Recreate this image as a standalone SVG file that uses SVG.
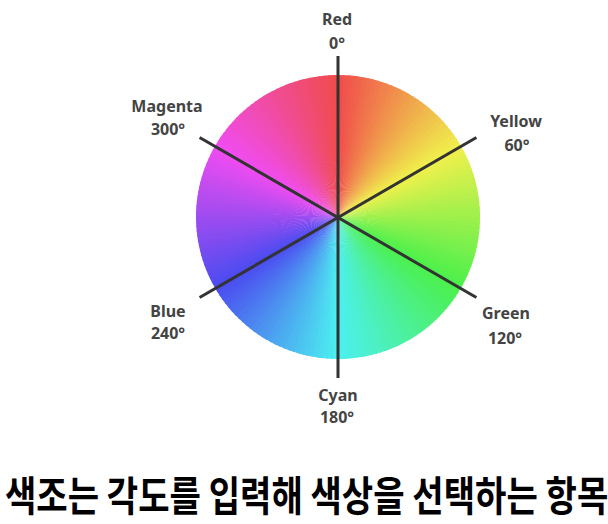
<svg xmlns="http://www.w3.org/2000/svg" xmlns:xlink="http://www.w3.org/1999/xlink" width="608" height="524" viewBox="0 0 608 524">
<style>
.lbl{font-family:"Noto Sans","Liberation Sans",sans-serif;font-weight:700;font-size:16px;fill:#444;text-anchor:middle}
.spoke{stroke:#333;stroke-width:3;stroke-linecap:butt;fill:none}
.title{font-family:"Noto Sans CJK KR","Noto Sans",sans-serif;font-weight:700;font-size:34.1px;fill:#000}
</style>
<defs>
<path id="w" d="M0 0 L0 -142 A142 142 0 0 1 6.44 -141.85 Z"/>
</defs>
<rect width="608" height="524" fill="#fff"/>
<g id="wheel" transform="translate(338,217)">
<use href="#w" transform="rotate(0)" fill="hsl(1,85%,62%)"/>
<use href="#w" transform="rotate(2)" fill="hsl(3,85%,62%)"/>
<use href="#w" transform="rotate(4)" fill="hsl(5,85%,62%)"/>
<use href="#w" transform="rotate(6)" fill="hsl(7,85%,62%)"/>
<use href="#w" transform="rotate(8)" fill="hsl(9,85%,62%)"/>
<use href="#w" transform="rotate(10)" fill="hsl(11,85%,62%)"/>
<use href="#w" transform="rotate(12)" fill="hsl(13,85%,62%)"/>
<use href="#w" transform="rotate(14)" fill="hsl(15,85%,62%)"/>
<use href="#w" transform="rotate(16)" fill="hsl(17,85%,62%)"/>
<use href="#w" transform="rotate(18)" fill="hsl(19,85%,62%)"/>
<use href="#w" transform="rotate(20)" fill="hsl(21,85%,62%)"/>
<use href="#w" transform="rotate(22)" fill="hsl(23,85%,62%)"/>
<use href="#w" transform="rotate(24)" fill="hsl(25,85%,62%)"/>
<use href="#w" transform="rotate(26)" fill="hsl(27,85%,62%)"/>
<use href="#w" transform="rotate(28)" fill="hsl(29,85%,62%)"/>
<use href="#w" transform="rotate(30)" fill="hsl(31,85%,62%)"/>
<use href="#w" transform="rotate(32)" fill="hsl(33,85%,62%)"/>
<use href="#w" transform="rotate(34)" fill="hsl(35,85%,62%)"/>
<use href="#w" transform="rotate(36)" fill="hsl(37,85%,62%)"/>
<use href="#w" transform="rotate(38)" fill="hsl(39,85%,62%)"/>
<use href="#w" transform="rotate(40)" fill="hsl(41,85%,62%)"/>
<use href="#w" transform="rotate(42)" fill="hsl(43,85%,62%)"/>
<use href="#w" transform="rotate(44)" fill="hsl(45,85%,62%)"/>
<use href="#w" transform="rotate(46)" fill="hsl(47,85%,62%)"/>
<use href="#w" transform="rotate(48)" fill="hsl(49,85%,62%)"/>
<use href="#w" transform="rotate(50)" fill="hsl(51,85%,62%)"/>
<use href="#w" transform="rotate(52)" fill="hsl(53,85%,62%)"/>
<use href="#w" transform="rotate(54)" fill="hsl(55,85%,62%)"/>
<use href="#w" transform="rotate(56)" fill="hsl(57,85%,62%)"/>
<use href="#w" transform="rotate(58)" fill="hsl(59,85%,62%)"/>
<use href="#w" transform="rotate(60)" fill="hsl(61,85%,62%)"/>
<use href="#w" transform="rotate(62)" fill="hsl(63,85%,62%)"/>
<use href="#w" transform="rotate(64)" fill="hsl(65,85%,62%)"/>
<use href="#w" transform="rotate(66)" fill="hsl(67,85%,62%)"/>
<use href="#w" transform="rotate(68)" fill="hsl(69,85%,62%)"/>
<use href="#w" transform="rotate(70)" fill="hsl(71,85%,62%)"/>
<use href="#w" transform="rotate(72)" fill="hsl(73,85%,62%)"/>
<use href="#w" transform="rotate(74)" fill="hsl(75,85%,62%)"/>
<use href="#w" transform="rotate(76)" fill="hsl(77,85%,62%)"/>
<use href="#w" transform="rotate(78)" fill="hsl(79,85%,62%)"/>
<use href="#w" transform="rotate(80)" fill="hsl(81,85%,62%)"/>
<use href="#w" transform="rotate(82)" fill="hsl(83,85%,62%)"/>
<use href="#w" transform="rotate(84)" fill="hsl(85,85%,62%)"/>
<use href="#w" transform="rotate(86)" fill="hsl(87,85%,62%)"/>
<use href="#w" transform="rotate(88)" fill="hsl(89,85%,62%)"/>
<use href="#w" transform="rotate(90)" fill="hsl(91,85%,62%)"/>
<use href="#w" transform="rotate(92)" fill="hsl(93,85%,62%)"/>
<use href="#w" transform="rotate(94)" fill="hsl(95,85%,62%)"/>
<use href="#w" transform="rotate(96)" fill="hsl(97,85%,62%)"/>
<use href="#w" transform="rotate(98)" fill="hsl(99,85%,62%)"/>
<use href="#w" transform="rotate(100)" fill="hsl(101,85%,62%)"/>
<use href="#w" transform="rotate(102)" fill="hsl(103,85%,62%)"/>
<use href="#w" transform="rotate(104)" fill="hsl(105,85%,62%)"/>
<use href="#w" transform="rotate(106)" fill="hsl(107,85%,62%)"/>
<use href="#w" transform="rotate(108)" fill="hsl(109,85%,62%)"/>
<use href="#w" transform="rotate(110)" fill="hsl(111,85%,62%)"/>
<use href="#w" transform="rotate(112)" fill="hsl(113,85%,62%)"/>
<use href="#w" transform="rotate(114)" fill="hsl(115,85%,62%)"/>
<use href="#w" transform="rotate(116)" fill="hsl(117,85%,62%)"/>
<use href="#w" transform="rotate(118)" fill="hsl(119,85%,62%)"/>
<use href="#w" transform="rotate(120)" fill="hsl(121,85%,62%)"/>
<use href="#w" transform="rotate(122)" fill="hsl(123,85%,62%)"/>
<use href="#w" transform="rotate(124)" fill="hsl(125,85%,62%)"/>
<use href="#w" transform="rotate(126)" fill="hsl(127,85%,62%)"/>
<use href="#w" transform="rotate(128)" fill="hsl(129,85%,62%)"/>
<use href="#w" transform="rotate(130)" fill="hsl(131,85%,62%)"/>
<use href="#w" transform="rotate(132)" fill="hsl(133,85%,62%)"/>
<use href="#w" transform="rotate(134)" fill="hsl(135,85%,62%)"/>
<use href="#w" transform="rotate(136)" fill="hsl(137,85%,62%)"/>
<use href="#w" transform="rotate(138)" fill="hsl(139,85%,62%)"/>
<use href="#w" transform="rotate(140)" fill="hsl(141,85%,62%)"/>
<use href="#w" transform="rotate(142)" fill="hsl(143,85%,62%)"/>
<use href="#w" transform="rotate(144)" fill="hsl(145,85%,62%)"/>
<use href="#w" transform="rotate(146)" fill="hsl(147,85%,62%)"/>
<use href="#w" transform="rotate(148)" fill="hsl(149,85%,62%)"/>
<use href="#w" transform="rotate(150)" fill="hsl(151,85%,62%)"/>
<use href="#w" transform="rotate(152)" fill="hsl(153,85%,62%)"/>
<use href="#w" transform="rotate(154)" fill="hsl(155,85%,62%)"/>
<use href="#w" transform="rotate(156)" fill="hsl(157,85%,62%)"/>
<use href="#w" transform="rotate(158)" fill="hsl(159,85%,62%)"/>
<use href="#w" transform="rotate(160)" fill="hsl(161,85%,62%)"/>
<use href="#w" transform="rotate(162)" fill="hsl(163,85%,62%)"/>
<use href="#w" transform="rotate(164)" fill="hsl(165,85%,62%)"/>
<use href="#w" transform="rotate(166)" fill="hsl(167,85%,62%)"/>
<use href="#w" transform="rotate(168)" fill="hsl(169,85%,62%)"/>
<use href="#w" transform="rotate(170)" fill="hsl(171,85%,62%)"/>
<use href="#w" transform="rotate(172)" fill="hsl(173,85%,62%)"/>
<use href="#w" transform="rotate(174)" fill="hsl(175,85%,62%)"/>
<use href="#w" transform="rotate(176)" fill="hsl(177,85%,62%)"/>
<use href="#w" transform="rotate(178)" fill="hsl(179,85%,62%)"/>
<use href="#w" transform="rotate(180)" fill="hsl(181,85%,62%)"/>
<use href="#w" transform="rotate(182)" fill="hsl(183,85%,62%)"/>
<use href="#w" transform="rotate(184)" fill="hsl(185,85%,62%)"/>
<use href="#w" transform="rotate(186)" fill="hsl(187,85%,62%)"/>
<use href="#w" transform="rotate(188)" fill="hsl(189,85%,62%)"/>
<use href="#w" transform="rotate(190)" fill="hsl(191,85%,62%)"/>
<use href="#w" transform="rotate(192)" fill="hsl(193,85%,62%)"/>
<use href="#w" transform="rotate(194)" fill="hsl(195,85%,62%)"/>
<use href="#w" transform="rotate(196)" fill="hsl(197,85%,62%)"/>
<use href="#w" transform="rotate(198)" fill="hsl(199,85%,62%)"/>
<use href="#w" transform="rotate(200)" fill="hsl(201,85%,62%)"/>
<use href="#w" transform="rotate(202)" fill="hsl(203,85%,62%)"/>
<use href="#w" transform="rotate(204)" fill="hsl(205,85%,62%)"/>
<use href="#w" transform="rotate(206)" fill="hsl(207,85%,62%)"/>
<use href="#w" transform="rotate(208)" fill="hsl(209,85%,62%)"/>
<use href="#w" transform="rotate(210)" fill="hsl(211,85%,62%)"/>
<use href="#w" transform="rotate(212)" fill="hsl(213,85%,62%)"/>
<use href="#w" transform="rotate(214)" fill="hsl(215,85%,62%)"/>
<use href="#w" transform="rotate(216)" fill="hsl(217,85%,62%)"/>
<use href="#w" transform="rotate(218)" fill="hsl(219,85%,62%)"/>
<use href="#w" transform="rotate(220)" fill="hsl(221,85%,62%)"/>
<use href="#w" transform="rotate(222)" fill="hsl(223,85%,62%)"/>
<use href="#w" transform="rotate(224)" fill="hsl(225,85%,62%)"/>
<use href="#w" transform="rotate(226)" fill="hsl(227,85%,62%)"/>
<use href="#w" transform="rotate(228)" fill="hsl(229,85%,62%)"/>
<use href="#w" transform="rotate(230)" fill="hsl(231,85%,62%)"/>
<use href="#w" transform="rotate(232)" fill="hsl(233,85%,62%)"/>
<use href="#w" transform="rotate(234)" fill="hsl(235,85%,62%)"/>
<use href="#w" transform="rotate(236)" fill="hsl(237,85%,62%)"/>
<use href="#w" transform="rotate(238)" fill="hsl(239,85%,62%)"/>
<use href="#w" transform="rotate(240)" fill="hsl(241,85%,62%)"/>
<use href="#w" transform="rotate(242)" fill="hsl(243,85%,62%)"/>
<use href="#w" transform="rotate(244)" fill="hsl(245,85%,62%)"/>
<use href="#w" transform="rotate(246)" fill="hsl(247,85%,62%)"/>
<use href="#w" transform="rotate(248)" fill="hsl(249,85%,62%)"/>
<use href="#w" transform="rotate(250)" fill="hsl(251,85%,62%)"/>
<use href="#w" transform="rotate(252)" fill="hsl(253,85%,62%)"/>
<use href="#w" transform="rotate(254)" fill="hsl(255,85%,62%)"/>
<use href="#w" transform="rotate(256)" fill="hsl(257,85%,62%)"/>
<use href="#w" transform="rotate(258)" fill="hsl(259,85%,62%)"/>
<use href="#w" transform="rotate(260)" fill="hsl(261,85%,62%)"/>
<use href="#w" transform="rotate(262)" fill="hsl(263,85%,62%)"/>
<use href="#w" transform="rotate(264)" fill="hsl(265,85%,62%)"/>
<use href="#w" transform="rotate(266)" fill="hsl(267,85%,62%)"/>
<use href="#w" transform="rotate(268)" fill="hsl(269,85%,62%)"/>
<use href="#w" transform="rotate(270)" fill="hsl(271,85%,62%)"/>
<use href="#w" transform="rotate(272)" fill="hsl(273,85%,62%)"/>
<use href="#w" transform="rotate(274)" fill="hsl(275,85%,62%)"/>
<use href="#w" transform="rotate(276)" fill="hsl(277,85%,62%)"/>
<use href="#w" transform="rotate(278)" fill="hsl(279,85%,62%)"/>
<use href="#w" transform="rotate(280)" fill="hsl(281,85%,62%)"/>
<use href="#w" transform="rotate(282)" fill="hsl(283,85%,62%)"/>
<use href="#w" transform="rotate(284)" fill="hsl(285,85%,62%)"/>
<use href="#w" transform="rotate(286)" fill="hsl(287,85%,62%)"/>
<use href="#w" transform="rotate(288)" fill="hsl(289,85%,62%)"/>
<use href="#w" transform="rotate(290)" fill="hsl(291,85%,62%)"/>
<use href="#w" transform="rotate(292)" fill="hsl(293,85%,62%)"/>
<use href="#w" transform="rotate(294)" fill="hsl(295,85%,62%)"/>
<use href="#w" transform="rotate(296)" fill="hsl(297,85%,62%)"/>
<use href="#w" transform="rotate(298)" fill="hsl(299,85%,62%)"/>
<use href="#w" transform="rotate(300)" fill="hsl(301,85%,62%)"/>
<use href="#w" transform="rotate(302)" fill="hsl(303,85%,62%)"/>
<use href="#w" transform="rotate(304)" fill="hsl(305,85%,62%)"/>
<use href="#w" transform="rotate(306)" fill="hsl(307,85%,62%)"/>
<use href="#w" transform="rotate(308)" fill="hsl(309,85%,62%)"/>
<use href="#w" transform="rotate(310)" fill="hsl(311,85%,62%)"/>
<use href="#w" transform="rotate(312)" fill="hsl(313,85%,62%)"/>
<use href="#w" transform="rotate(314)" fill="hsl(315,85%,62%)"/>
<use href="#w" transform="rotate(316)" fill="hsl(317,85%,62%)"/>
<use href="#w" transform="rotate(318)" fill="hsl(319,85%,62%)"/>
<use href="#w" transform="rotate(320)" fill="hsl(321,85%,62%)"/>
<use href="#w" transform="rotate(322)" fill="hsl(323,85%,62%)"/>
<use href="#w" transform="rotate(324)" fill="hsl(325,85%,62%)"/>
<use href="#w" transform="rotate(326)" fill="hsl(327,85%,62%)"/>
<use href="#w" transform="rotate(328)" fill="hsl(329,85%,62%)"/>
<use href="#w" transform="rotate(330)" fill="hsl(331,85%,62%)"/>
<use href="#w" transform="rotate(332)" fill="hsl(333,85%,62%)"/>
<use href="#w" transform="rotate(334)" fill="hsl(335,85%,62%)"/>
<use href="#w" transform="rotate(336)" fill="hsl(337,85%,62%)"/>
<use href="#w" transform="rotate(338)" fill="hsl(339,85%,62%)"/>
<use href="#w" transform="rotate(340)" fill="hsl(341,85%,62%)"/>
<use href="#w" transform="rotate(342)" fill="hsl(343,85%,62%)"/>
<use href="#w" transform="rotate(344)" fill="hsl(345,85%,62%)"/>
<use href="#w" transform="rotate(346)" fill="hsl(347,85%,62%)"/>
<use href="#w" transform="rotate(348)" fill="hsl(349,85%,62%)"/>
<use href="#w" transform="rotate(350)" fill="hsl(351,85%,62%)"/>
<use href="#w" transform="rotate(352)" fill="hsl(353,85%,62%)"/>
<use href="#w" transform="rotate(354)" fill="hsl(355,85%,62%)"/>
<use href="#w" transform="rotate(356)" fill="hsl(357,85%,62%)"/>
<use href="#w" transform="rotate(358)" fill="hsl(359,85%,62%)"/>
</g>
<g id="spokes">
<line class="spoke" x1="338" y1="56" x2="338" y2="378"/>
<line class="spoke" x1="199.6" y1="137.5" x2="476.4" y2="297.5"/>
<line class="spoke" x1="199.6" y1="297.5" x2="476.4" y2="137.5"/>
</g>
<g id="label-red"><text class="lbl" x="337" y="25">Red</text><text class="lbl" x="337" y="49">0°</text></g>
<g id="label-yellow"><text class="lbl" x="516" y="127">Yellow</text><text class="lbl" x="517" y="151">60°</text></g>
<g id="label-green"><text class="lbl" x="506" y="319">Green</text><text class="lbl" x="505" y="344">120°</text></g>
<g id="label-cyan"><text class="lbl" x="338" y="401">Cyan</text><text class="lbl" x="337" y="423">180°</text></g>
<g id="label-blue"><text class="lbl" x="168" y="317">Blue</text><text class="lbl" x="168" y="339">240°</text></g>
<g id="label-magenta"><text class="lbl" x="167" y="112">Magenta</text><text class="lbl" x="168" y="135">300°</text></g>
<g id="caption" transform="translate(5,511) scale(1,1.2)"><text class="title" x="0" y="0">색조는 각도를 입력해 색상을 선택하는 항목</text></g>
</svg>
